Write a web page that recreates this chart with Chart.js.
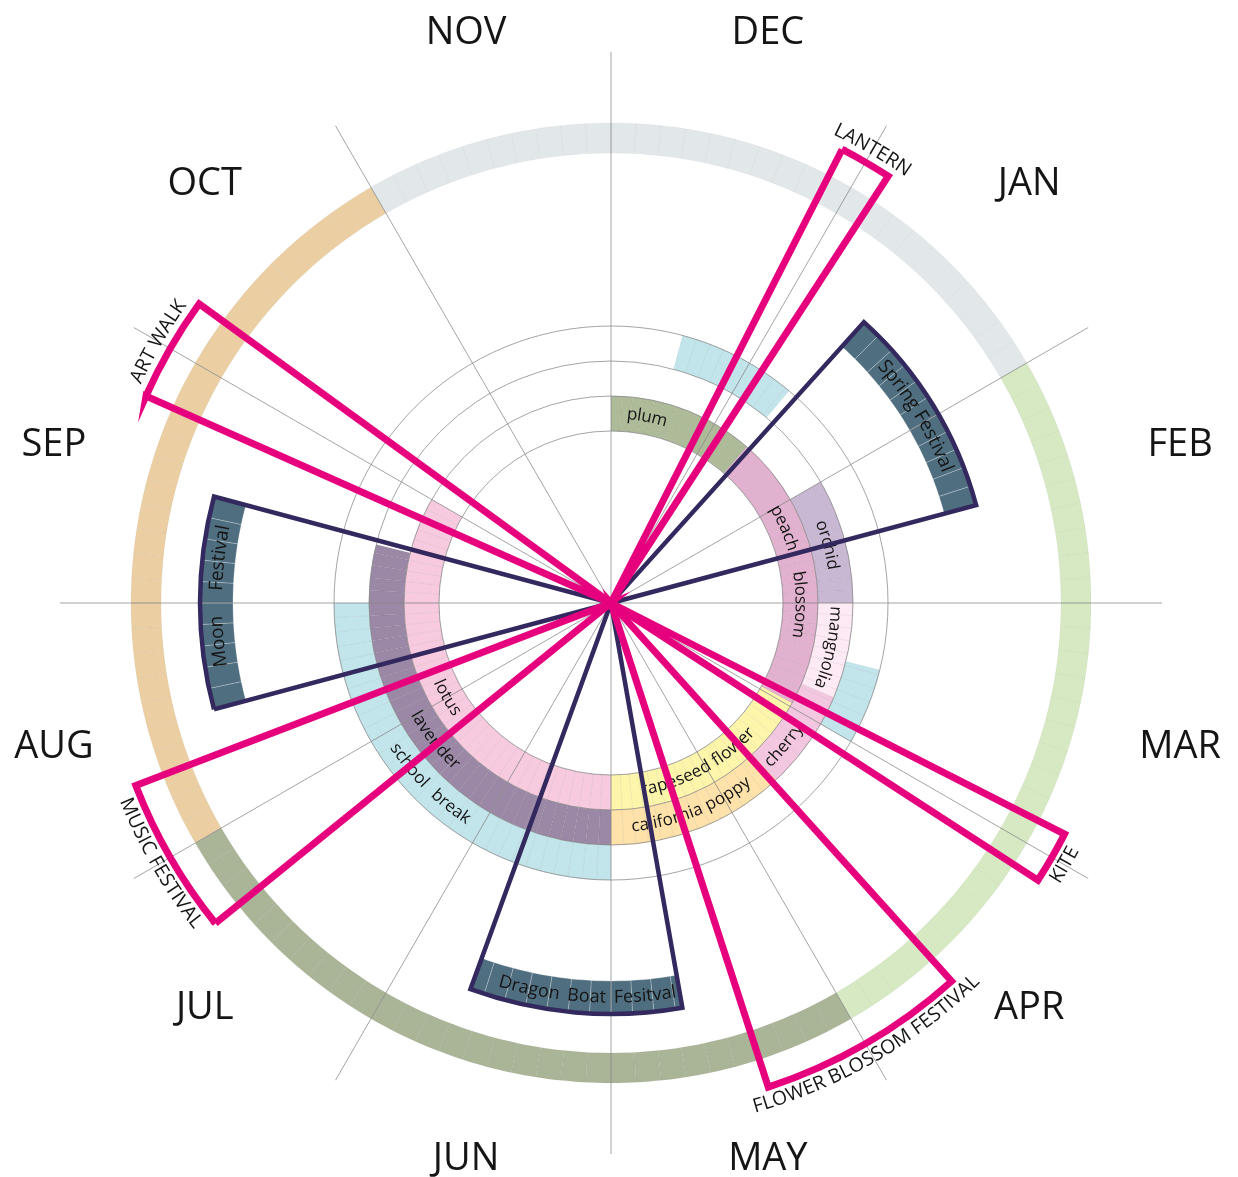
<!DOCTYPE html>
<html>
<head>
<meta charset="utf-8">
<script src="https://cdn.jsdelivr.net/npm/chart.js@4.4.1/dist/chart.umd.min.js"></script>
<style>
  html, body { margin: 0; padding: 0; background: #ffffff; }
  #wrap { position: relative; width: 1238px; height: 1177px; overflow: hidden; }
  #wrap canvas { position: absolute; left: 0; top: 0; }
</style>
</head>
<body>
<div id="wrap">
  <canvas id="rings" width="1238" height="1177"></canvas>
  <canvas id="wedges" width="1238" height="1177"></canvas>
</div>
<script>
// ================= DATA (angles in degrees, clockwise from 12 o'clock) =================
const MONTHS = ['DEC', 'JAN', 'FEB', 'MAR', 'APR', 'MAY', 'JUN', 'JUL', 'AUG', 'SEP', 'OCT', 'NOV'];

const SEASONS      = ['winter', 'spring', 'summer', 'autumn'];
const SEASON_START = [330, 60, 150, 240];
const SEASON_END   = [60, 150, 240, 330];

const BLOOM_NAMES = ['plum', 'peach blossom', 'rapeseed flower', 'lotus',
                     'orchid', 'mangnolia', 'cherry', 'california poppy', 'lavender',
                     '', '', 'school break'];
const BLOOM_RING  = ['A', 'A', 'A', 'A', 'B', 'B', 'B', 'B', 'B', 'C', 'C', 'C'];
const BLOOM_START = [0, 41, 119, 180, 60, 90, 113, 137, 180, 15, 104, 180];
const BLOOM_END   = [41, 119, 180, 300, 90, 113, 137, 180, 284, 40, 120, 270];

const EVENT_NAMES = ['LANTERN', 'Spring Festival', 'KITE', 'FLOWER BLOSSOM FESTIVAL',
                     'Dragon Boat Fesitval', 'MUSIC FESTIVAL', 'Moon Festival', 'ART WALK'];
const EVENT_KIND  = ['event', 'festival', 'event', 'event', 'festival', 'event', 'festival', 'event'];
const EVENT_START = [27, 42, 117, 138, 170, 231, 255, 294];
const EVENT_END   = [33, 75, 123, 162, 200, 249, 285, 306];
const EVENT_REACH = [509, 378, 509, 509, 411, 509, 411, 509];

const GRID_RADII = [172, 207, 242, 277];
const AXIS_MAX = 551;

// ================= STYLE / LAYOUT =================
const SEASON_RING = [450, 480];
const BAND_RINGS = { A: [172, 207], B: [207, 242], C: [242, 277] };
const FEST_BAND_DEPTH = 33;
const SEASON_COLORS = { winter: '#e2e8ea', spring: '#d6e9c2', summer: '#aab597', autumn: '#ebcfa3' };
const BLOOM_COLORS = ['#aebb99', '#e2b1cf', '#fdf6aa', '#f7cadf',
                      '#c9b8d4', '#fdeaf4', '#f3c7e0', '#fee2a9', '#9a88a6',
                      '#c1e5eb', '#c1e5eb', '#c1e5eb'];
const FEST_BAND_COLOR = '#4f6e7f';
const NAVY = '#34295f';
const PINK = '#e6007e';
const GRID_COLOR = '#8d8d8d';
const TEXT_COLOR = '#151515';
const FONT = '"Open Sans", "DejaVu Sans", sans-serif';
const LABEL_SHIFT = { 'plum': -9.5, 'cherry': 4.5, 'rapeseed flower': 2, 'Dragon Boat Fesitval': -1.5, 'Moon Festival': 1 };
const WORD_GAP = { 'peach blossom': 17, 'school break': 6, 'Moon Festival': 20, 'Dragon Boat Fesitval': 3 };
const LABEL_FONT_SIZE = { 'Dragon Boat Fesitval': 18 };
const MONTH_RING = { r: 583, dx: 6, dy: -7 };
const PAD = { left: 60, right: 76, top: 52, bottom: 23 };
const STEP = 3; // faint subdivision of the coloured bands

// ================= HELPERS =================
const CLEAR = 'rgba(0,0,0,0)';
function splitPieces(starts, ends, colors) {
  const pieces = [];
  starts.forEach((s, i) => {
    const e = ends[i];
    if (e < s) { pieces.push([s, 360, colors[i]]); pieces.push([0, e, colors[i]]); }
    else pieces.push([s, e, colors[i]]);
  });
  return pieces.sort((a, b) => a[0] - b[0]);
}
function ringDataset(pieces, line, weight) {
  const values = [], bg = [], bc = [], bw = [];
  let cur = 0;
  const gap = (len) => { values.push(len); bg.push(CLEAR); bc.push(CLEAR); bw.push(0); };
  pieces.forEach(([s, e, c]) => {
    if (s > cur) gap(s - cur);
    let a = s;
    while (a < e - 1e-6) {
      const b = Math.min(e, (Math.floor(a / STEP + 1e-6) + 1) * STEP);
      values.push(b - a); bg.push(c); bc.push(line); bw.push(0.8);
      a = b;
    }
    cur = e;
  });
  if (cur < 360) gap(360 - cur);
  return { data: values, backgroundColor: bg, borderColor: bc, borderWidth: bw, weight: weight, borderAlign: 'center' };
}

// ring specs
const ringSpecs = [];
ringSpecs.push({ r0: SEASON_RING[0], r1: SEASON_RING[1], line: 'rgba(0,0,0,0.045)',
  pieces: splitPieces(SEASON_START, SEASON_END, SEASONS.map(s => SEASON_COLORS[s])) });
const festIdx = EVENT_NAMES.map((_, i) => i).filter(i => EVENT_KIND[i] === 'festival');
[...new Set(festIdx.map(i => EVENT_REACH[i]))].forEach(R => {
  const ids = festIdx.filter(i => EVENT_REACH[i] === R);
  ringSpecs.push({ r0: R - FEST_BAND_DEPTH, r1: R, line: 'rgba(255,255,255,0.3)',
    pieces: splitPieces(ids.map(i => EVENT_START[i]), ids.map(i => EVENT_END[i]), ids.map(() => FEST_BAND_COLOR)) });
});
Object.keys(BAND_RINGS).forEach(k => {
  const ids = BLOOM_RING.map((r, i) => r === k ? i : -1).filter(i => i >= 0);
  ringSpecs.push({ r0: BAND_RINGS[k][0], r1: BAND_RINGS[k][1], line: 'rgba(0,0,0,0.06)',
    pieces: splitPieces(ids.map(i => BLOOM_START[i]), ids.map(i => BLOOM_END[i]), ids.map(i => BLOOM_COLORS[i])) });
});
ringSpecs.sort((a, b) => b.r1 - a.r1);
const ringDatasets = [];
const outerR = ringSpecs[0].r1;
let prevR = outerR;
ringSpecs.forEach(s => {
  if (s.r1 < prevR) ringDatasets.push(ringDataset([], CLEAR, prevR - s.r1));
  ringDatasets.push(ringDataset(s.pieces, s.line, s.r1 - s.r0));
  prevR = s.r0;
});
const cutoutR = prevR;

new Chart(document.getElementById('rings'), {
  type: 'doughnut',
  data: { labels: [], datasets: ringDatasets },
  options: {
    responsive: false, animation: false, events: [],
    radius: outerR, cutout: (cutoutR / outerR * 100) + '%', rotation: 0,
    layout: { padding: PAD },
    plugins: { legend: { display: false }, tooltip: { enabled: false } }
  }
});

// wedges
function wedgeSet(kind) {
  const ids = EVENT_NAMES.map((_, i) => i).filter(i => EVENT_KIND[i] === kind)
    .sort((a, b) => EVENT_START[a] - EVENT_START[b]);
  const r = [], ang = [], on = [];
  let cur = 0;
  ids.forEach(i => {
    if (EVENT_START[i] > cur) { r.push(0); ang.push(EVENT_START[i] - cur); on.push(false); }
    r.push(EVENT_REACH[i]); ang.push(EVENT_END[i] - EVENT_START[i]); on.push(true);
    cur = EVENT_END[i];
  });
  if (cur < 360) { r.push(0); ang.push(360 - cur); on.push(false); }
  return { r, ang, on };
}
function wedgeDataset(kind, color, width) {
  const s = wedgeSet(kind);
  return {
    data: s.r,
    angle: (c) => s.ang[c.dataIndex],
    backgroundColor: CLEAR,
    borderColor: s.on.map(o => o ? color : CLEAR),
    borderWidth: s.on.map(o => o ? width : 0),
    borderJoinStyle: 'miter',
    borderAlign: 'center'
  };
}

function arcText(ctx, text, cx, cy, r, thetaDeg, dir, font, gap) {
  ctx.save();
  ctx.font = font; ctx.fillStyle = TEXT_COLOR;
  ctx.textAlign = 'center'; ctx.textBaseline = 'middle';
  const chars = [...text];
  const widths = chars.map(ch => ctx.measureText(ch).width + (ch === ' ' ? (gap || 0) : 0));
  const total = widths.reduce((a, b) => a + b, 0);
  const th = thetaDeg * Math.PI / 180;
  const sign = dir === 'cw' ? 1 : -1;
  let acc = 0;
  chars.forEach((ch, i) => {
    const a = th + sign * ((acc + widths[i] / 2) - total / 2) / r;
    acc += widths[i];
    if (ch === ' ') return;
    ctx.save();
    ctx.translate(cx + r * Math.sin(a), cy - r * Math.cos(a));
    ctx.rotate(dir === 'cw' ? a : a - Math.PI);
    ctx.fillText(ch, 0, 0);
    ctx.restore();
  });
  ctx.restore();
}
const dirFor = (deg) => (deg > 112 && deg < 252) ? 'ccw' : 'cw';

const labelPlugin = {
  id: 'radialLabels',
  beforeDatasetsDraw(chart) {
    const sc = chart.scales.r, ctx = chart.ctx;
    const d = (v) => sc.getDistanceFromCenterForValue(v);
    BLOOM_NAMES.forEach((name, i) => {
      if (!name) return;
      const band = BAND_RINGS[BLOOM_RING[i]];
      const deg = (BLOOM_START[i] + BLOOM_END[i]) / 2 + (LABEL_SHIFT[name] || 0);
      arcText(ctx, name, sc.xCenter, sc.yCenter, d((band[0] + band[1]) / 2), deg, dirFor(deg),
        '400 17px ' + FONT, WORD_GAP[name]);
    });
    EVENT_NAMES.forEach((name, i) => {
      if (EVENT_KIND[i] !== 'festival') return;
      const deg = (EVENT_START[i] + EVENT_END[i]) / 2 + (LABEL_SHIFT[name] || 0);
      arcText(ctx, name, sc.xCenter, sc.yCenter, d(EVENT_REACH[i] - FEST_BAND_DEPTH / 2), deg, dirFor(deg),
        '400 ' + (LABEL_FONT_SIZE[name] || 19) + 'px ' + FONT, WORD_GAP[name]);
    });
  },
  afterDatasetsDraw(chart) {
    const sc = chart.scales.r, ctx = chart.ctx;
    const d = (v) => sc.getDistanceFromCenterForValue(v);
    EVENT_NAMES.forEach((name, i) => {
      if (EVENT_KIND[i] !== 'event') return;
      const deg = (EVENT_START[i] + EVENT_END[i]) / 2;
      arcText(ctx, name, sc.xCenter, sc.yCenter, d(EVENT_REACH[i] + 15), deg, dirFor(deg),
        '400 19.5px ' + FONT, 0);
    });
    ctx.save();
    ctx.font = '400 38px ' + FONT; ctx.fillStyle = TEXT_COLOR;
    ctx.textAlign = 'center'; ctx.textBaseline = 'middle';
    MONTHS.forEach((m, i) => {
      const p = sc.getPointPosition(i, d(MONTH_RING.r), Math.PI / MONTHS.length);
      ctx.fillText(m, p.x + MONTH_RING.dx, p.y + MONTH_RING.dy);
    });
    ctx.restore();
  }
};

new Chart(document.getElementById('wedges'), {
  type: 'polarArea',
  data: {
    labels: MONTHS,
    datasets: [wedgeDataset('event', PINK, 7), wedgeDataset('festival', NAVY, 4.5)]
  },
  options: {
    responsive: false, animation: false, events: [],
    layout: { padding: PAD },
    plugins: { legend: { display: false }, tooltip: { enabled: false } },
    scales: {
      r: {
        min: 0, max: AXIS_MAX, startAngle: 0,
        ticks: { display: false },
        afterBuildTicks: (s) => { s.ticks = [0, ...GRID_RADII].map(v => ({ value: v })); },
        grid: { display: true, circular: true, color: GRID_COLOR, lineWidth: 0.8 },
        angleLines: { display: true, color: GRID_COLOR, lineWidth: 0.8 },
        pointLabels: { display: false }
      }
    }
  },
  plugins: [labelPlugin]
});
</script>
</body>
</html>
